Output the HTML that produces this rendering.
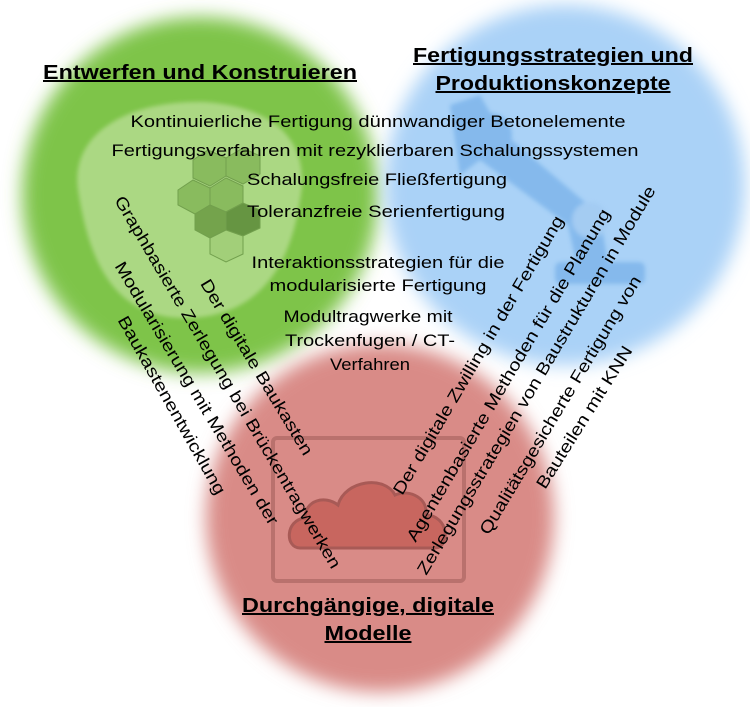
<!DOCTYPE html>
<html><head><meta charset="utf-8"><style>
html,body{margin:0;padding:0;background:#fff;}
svg{display:block;}
text{font-family:"Liberation Sans",Arial,sans-serif;fill:#000;}
.t{font-size:17px;}
.h{font-size:20px;font-weight:bold;text-decoration:underline;}
</style></head><body>
<svg width="750" height="707" viewBox="0 0 750 707" xmlns="http://www.w3.org/2000/svg">
<defs>
<filter id="b" x="-20%" y="-20%" width="140%" height="140%"><feGaussianBlur stdDeviation="9"/></filter>
<filter id="s" x="-20%" y="-20%" width="140%" height="140%"><feGaussianBlur stdDeviation="2"/></filter>
</defs>
<rect width="750" height="707" fill="#fff"/>
<circle cx="200" cy="195" r="178" fill="#7ec44a" filter="url(#b)"/>
<circle cx="565" cy="185" r="180" fill="#aad2f7" filter="url(#b)"/>
<circle cx="380" cy="518" r="174" fill="#d98b87" filter="url(#b)"/>
<!-- shell -->
<path d="M78,190 C70,135 125,100 205,102 C285,108 310,150 300,200 C290,270 255,320 180,318 C110,315 88,255 78,190 Z" fill="#b4dc8e" opacity="0.85" filter="url(#s)"/>
<g fill="#86b85a" stroke="#6c9a48" stroke-width="1" opacity="0.9" transform="translate(28,0)">
<polygon points="150,190 165,180 182,188 182,205 167,214 150,205"/>
<polygon points="182,188 198,178 215,186 215,203 198,212 182,205"/>
<polygon points="167,214 182,205 198,212 198,230 182,238 167,230" fill="#6f9e47"/>
<polygon points="198,212 215,203 232,210 232,228 215,236 198,230" fill="#5f8e3b"/>
<polygon points="182,238 198,230 215,236 215,254 198,262 182,254" fill="#a2cf78"/>
<polygon points="165,160 180,150 198,158 198,176 182,186 165,178"/>
<polygon points="198,158 215,148 232,156 232,174 215,184 198,176"/>
</g>
<!-- robot -->
<g fill="#7cb4ea" opacity="0.8" filter="url(#s)">
<path d="M450,105 L480,95 L500,130 L600,215 L610,275 L580,280 L568,225 L480,160 L460,175 Z"/>
<rect x="555" y="262" width="90" height="22" rx="6"/>
<circle cx="490" cy="135" r="22"/>
<circle cx="590" cy="220" r="18" fill="#a3cbf2"/>
</g>
<!-- red rect + cloud -->
<rect x="273" y="438" width="191" height="143" rx="4" fill="none" stroke="#b06a66" stroke-width="4" opacity="0.8"/>
<path d="M300,548 C285,548 285,520 305,518 C305,500 325,495 338,505 C345,480 385,475 395,495 C410,488 430,500 425,515 C450,515 450,548 435,548 Z" fill="#c8665f" stroke="#a85a56" stroke-width="3"/>
<!-- titles -->
<text class="h" x="200" y="79" text-anchor="middle" textLength="314" lengthAdjust="spacingAndGlyphs">Entwerfen und Konstruieren</text>
<text class="h" x="553" y="62" text-anchor="middle" textLength="280" lengthAdjust="spacingAndGlyphs">Fertigungsstrategien und</text>
<text class="h" x="553" y="90" text-anchor="middle" textLength="235" lengthAdjust="spacingAndGlyphs">Produktionskonzepte</text>
<text class="h" x="368" y="612" text-anchor="middle" textLength="252" lengthAdjust="spacingAndGlyphs">Durchgängige, digitale</text>
<text class="h" x="368" y="640" text-anchor="middle" textLength="87" lengthAdjust="spacingAndGlyphs">Modelle</text>
<!-- horizontal -->
<text class="t" x="378" y="127" text-anchor="middle" textLength="495" lengthAdjust="spacingAndGlyphs">Kontinuierliche Fertigung dünnwandiger Betonelemente</text>
<text class="t" x="375" y="156" text-anchor="middle" textLength="527" lengthAdjust="spacingAndGlyphs">Fertigungsverfahren mit rezyklierbaren Schalungssystemen</text>
<text class="t" x="377" y="185" text-anchor="middle" textLength="260" lengthAdjust="spacingAndGlyphs">Schalungsfreie Fließfertigung</text>
<text class="t" x="376" y="217" text-anchor="middle" textLength="258" lengthAdjust="spacingAndGlyphs">Toleranzfreie Serienfertigung</text>
<text class="t" x="378" y="268" text-anchor="middle" textLength="253" lengthAdjust="spacingAndGlyphs">Interaktionsstrategien für die</text>
<text class="t" x="378" y="291" text-anchor="middle" textLength="217" lengthAdjust="spacingAndGlyphs">modularisierte Fertigung</text>
<text class="t" x="368" y="322" text-anchor="middle" textLength="169" lengthAdjust="spacingAndGlyphs">Modultragwerke mit</text>
<text class="t" x="370" y="346" text-anchor="middle" textLength="170" lengthAdjust="spacingAndGlyphs">Trockenfugen / CT-</text>
<text class="t" x="370" y="370" text-anchor="middle" textLength="80" lengthAdjust="spacingAndGlyphs">Verfahren</text>
<!-- left diagonals -->
<text class="t" transform="translate(228,382) rotate(59.5)" y="6" text-anchor="middle" textLength="429" lengthAdjust="spacingAndGlyphs">Graphbasierte Zerlegung bei Brückentragwerken</text>
<text class="t" transform="translate(197,393) rotate(59.2)" y="6" text-anchor="middle" textLength="303" lengthAdjust="spacingAndGlyphs">Modularisierung mit Methoden der</text>
<text class="t" transform="translate(172,405) rotate(60.6)" y="6" text-anchor="middle" textLength="202" lengthAdjust="spacingAndGlyphs">Baukastenentwicklung</text>
<text class="t" transform="translate(257,367) rotate(59)" y="6" text-anchor="middle" textLength="202" lengthAdjust="spacingAndGlyphs">Der digitale Baukasten</text>
<!-- right diagonals -->
<text class="t" transform="translate(478,355) rotate(-59.6)" y="6" text-anchor="middle" textLength="320" lengthAdjust="spacingAndGlyphs">Der digitale Zwilling in der Fertigung</text>
<text class="t" transform="translate(508,375) rotate(-59.4)" y="6" text-anchor="middle" textLength="383" lengthAdjust="spacingAndGlyphs">Agentenbasierte Methoden für die Planung</text>
<text class="t" transform="translate(536,380) rotate(-59.2)" y="6" text-anchor="middle" textLength="449" lengthAdjust="spacingAndGlyphs">Zerlegungsstrategien von Baustrukturen in Module</text>
<text class="t" transform="translate(560,405) rotate(-59.1)" y="6" text-anchor="middle" textLength="298" lengthAdjust="spacingAndGlyphs">Qualitätsgesicherte Fertigung von</text>
<text class="t" transform="translate(584,417) rotate(-57.8)" y="6" text-anchor="middle" textLength="165" lengthAdjust="spacingAndGlyphs">Bauteilen mit KNN</text>
</svg>
</body></html>
